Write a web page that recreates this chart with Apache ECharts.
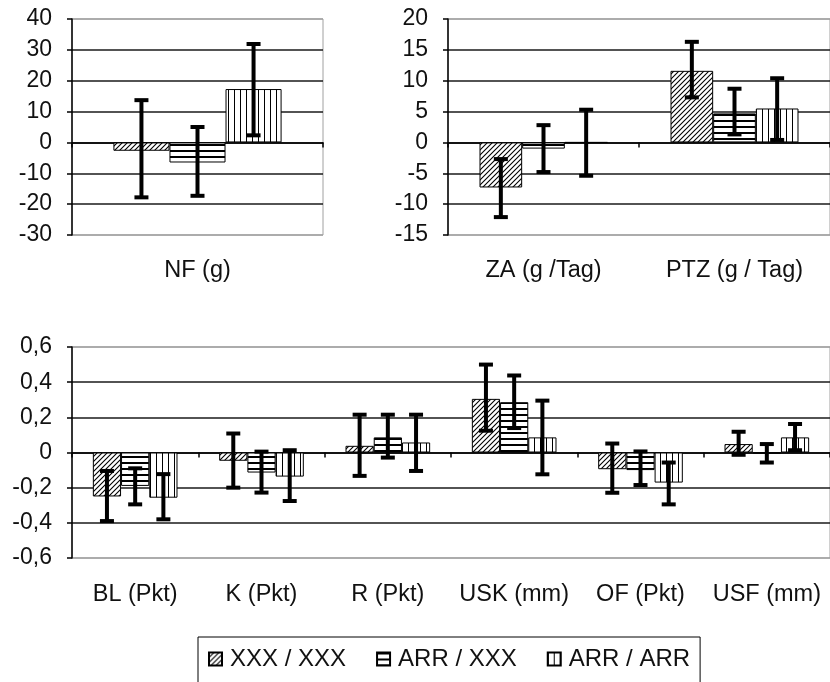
<!DOCTYPE html>
<html>
<head>
<meta charset="utf-8">
<script src="https://cdn.jsdelivr.net/npm/echarts@6/dist/echarts.min.js"></script>
<style>
html,body{margin:0;padding:0;background:#fff;}
#chart{width:830px;height:682px;}
</style>
</head>
<body>
<div id="chart"></div>
<script>
// ---------- data ----------
const seriesNames = ['XXX / XXX', 'ARR / XXX', 'ARR / ARR'];

const catsTL = ['NF (g)'];
const tlValues = [[-2.7], [-6.5], [17.3]];
const tlLow = [[-17.8], [-17.3], [2.3]];
const tlHigh = [[13.7], [5.0], [31.9]];

const catsTR = ['ZA (g /Tag)', 'PTZ (g / Tag)'];
const trValues = [[-7.3, 11.6], [-1.0, 4.7], [0, 5.5]];
const trLow = [[-12.1, 7.3], [-4.8, 1.3], [-5.4, 0.4]];
const trHigh = [[-2.7, 16.3], [2.8, 8.7], [5.3, 10.4]];

const catsB = ['BL (Pkt)', 'K (Pkt)', 'R (Pkt)', 'USK (mm)', 'OF (Pkt)', 'USF (mm)'];
const bValues = [
  [-0.25, -0.047, 0.038, 0.305, -0.095, 0.048],
  [-0.19, -0.114, 0.086, 0.286, -0.10, -0.005],
  [-0.257, -0.137, 0.057, 0.086, -0.171, 0.086]
];
const bLow = [
  [-0.39, -0.20, -0.133, 0.124, -0.229, -0.013],
  [-0.295, -0.228, -0.029, 0.139, -0.185, -0.057],
  [-0.38, -0.276, -0.105, -0.124, -0.295, 0.013]
];
const bHigh = [
  [-0.105, 0.108, 0.215, 0.50, 0.051, 0.118],
  [-0.09, 0.005, 0.215, 0.438, 0.006, 0.048],
  [-0.123, 0.013, 0.215, 0.295, -0.057, 0.162]
];

// ---------- patterns ----------
function mkCanvas(w, h, draw) {
  const c = document.createElement('canvas');
  c.width = w; c.height = h;
  const ctx = c.getContext('2d');
  ctx.fillStyle = '#fff'; ctx.fillRect(0, 0, w, h);
  draw(ctx, w, h);
  return c;
}
const patDiag = mkCanvas(5, 5, function (ctx, w, h) {
  ctx.strokeStyle = '#000'; ctx.lineWidth = 1.1;
  ctx.beginPath();
  ctx.moveTo(-1, h + 1); ctx.lineTo(w + 1, -1);
  ctx.moveTo(-1, 1); ctx.lineTo(1, -1);
  ctx.moveTo(w - 1, h + 1); ctx.lineTo(w + 1, h - 1);
  ctx.stroke();
});
const patHoriz = mkCanvas(6, 6, function (ctx, w, h) {
  ctx.fillStyle = '#000'; ctx.fillRect(0, 0, w, 2);
});
const patVert = mkCanvas(6, 6, function (ctx, w, h) {
  ctx.fillStyle = '#000'; ctx.fillRect(0, 0, 1, h);
});
const patterns = [patDiag, patHoriz, patVert];

const FONT = "'Liberation Sans', Arial, sans-serif";
const GAP = 0.33;

function splitColors(n) {
  const arr = [];
  for (let i = 0; i < n; i++) arr.push(i === 0 || i === n - 1 ? '#a0a0a0' : '#1a1a1a');
  return arr;
}

function errRenderer(idx) {
  return function (params, api) {
    const cat = api.value(0);
    const pLow = api.coord([cat, api.value(1)]);
    const pHigh = api.coord([cat, api.value(2)]);
    const band = api.size([1, 0])[0];
    const bw = band * (1 - GAP) / 3;
    const x = pLow[0] + (idx - 1) * bw;
    const h = 7;
    const st = { stroke: '#000', lineWidth: 4 };
    return {
      type: 'group',
      children: [
        { type: 'line', shape: { x1: x, y1: pLow[1], x2: x, y2: pHigh[1] }, style: st },
        { type: 'line', shape: { x1: x - h, y1: pLow[1], x2: x + h, y2: pLow[1] }, style: st },
        { type: 'line', shape: { x1: x - h, y1: pHigh[1], x2: x + h, y2: pHigh[1] }, style: st }
      ]
    };
  };
}

const grids = [
  { left: 72, top: 19, width: 251, height: 216, show: true, borderColor: '#a0a0a0', borderWidth: 1 },
  { left: 448, top: 19, width: 388, height: 216, show: true, borderColor: '#a0a0a0', borderWidth: 1 },
  { left: 72, top: 347, width: 765, height: 211, show: true, borderColor: '#a0a0a0', borderWidth: 1 }
];
const panelCats = [catsTL, catsTR, catsB];
const panelVals = [tlValues, trValues, bValues];
const panelLow = [tlLow, trLow, bLow];
const panelHigh = [tlHigh, trHigh, bHigh];
const yRanges = [[-30, 40, 10], [-15, 20, 5], [-0.6, 0.6, 0.2]];
const labelMargins = [24, 24, 25];

const xAxes = [], yAxes = [], series = [];
for (let g = 0; g < 3; g++) {
  // axis on zero with ticks
  xAxes.push({
    type: 'category', gridIndex: g, data: panelCats[g], position: 'bottom',
    axisLine: { show: true, onZero: true, lineStyle: { color: '#000', width: 1.5 } },
    axisTick: { show: true, length: 5, lineStyle: { color: '#000', width: 1.5 } },
    axisLabel: { show: false }, splitLine: { show: false }
  });
  // label axis at bottom
  xAxes.push({
    type: 'category', gridIndex: g, data: panelCats[g], position: 'bottom',
    axisLine: { show: false, onZero: false }, axisTick: { show: false },
    axisLabel: { show: true, interval: 0, margin: labelMargins[g], color: '#111', fontFamily: FONT, fontSize: 23.5 },
    splitLine: { show: false }
  });
  const r = yRanges[g];
  const nLines = Math.round((r[1] - r[0]) / r[2]) + 1;
  yAxes.push({
    type: 'value', gridIndex: g, min: r[0], max: r[1], interval: r[2],
    axisLine: { show: true, lineStyle: { color: '#000', width: 1.5 } },
    axisTick: { show: true, length: 5, lineStyle: { color: '#000', width: 1.5 } },
    axisLabel: {
      margin: 20, color: '#111', fontFamily: FONT, fontSize: 23,
      formatter: function (v) {
        if (g === 2) { const s = (Math.round(v * 10) / 10).toFixed(1); return Math.abs(v) < 1e-9 ? '0' : s.replace('.', ','); }
        return String(Math.round(v));
      }
    },
    splitLine: { show: true, lineStyle: { color: splitColors(nLines), width: 1.5 } }
  });
  for (let s = 0; s < 3; s++) {
    series.push({
      type: 'bar', name: seriesNames[s], xAxisIndex: g * 2, yAxisIndex: g,
      data: panelVals[g][s], barGap: '0%', barCategoryGap: (GAP * 100) + '%',
      itemStyle: { color: { image: patterns[s], repeat: 'repeat' }, borderColor: '#000', borderWidth: 1 },
      emphasis: { disabled: true }, animation: false, z: 2
    });
  }
  for (let s = 0; s < 3; s++) {
    const d = panelLow[g][s].map(function (lo, i) { return [i, lo, panelHigh[g][s][i]]; });
    series.push({
      type: 'custom', name: 'err' + g + s, xAxisIndex: g * 2, yAxisIndex: g,
      data: d, encode: { x: 0, y: [1, 2] }, renderItem: errRenderer(s),
      z: 5, animation: false, silent: true
    });
  }
}

const chart = echarts.init(document.getElementById('chart'), null, { renderer: 'canvas' });
chart.setOption({
  backgroundColor: '#fff',
  animation: false,
  grid: grids,
  xAxis: xAxes,
  yAxis: yAxes,
  legend: {
    data: seriesNames.map(function (n) { return { name: n, icon: 'rect' }; }),
    left: 198, top: 637,
    padding: [10, 10, 40, 10], itemGap: 30, itemWidth: 13, itemHeight: 13,
    borderColor: '#000', borderWidth: 1,
    textStyle: { color: '#111', fontFamily: FONT, fontSize: 24, padding: [0, 0, 0, 3] },
    selectedMode: false
  },
  series: series
});
</script>
</body>
</html>
